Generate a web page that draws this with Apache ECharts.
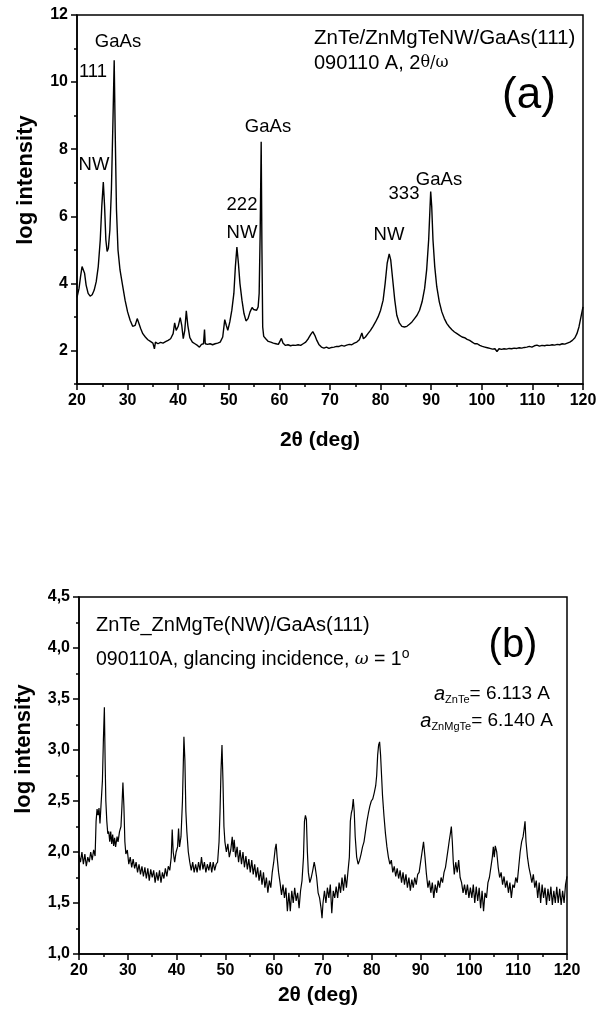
<!DOCTYPE html>
<html><head><meta charset="utf-8">
<script src="https://cdn.jsdelivr.net/npm/echarts@6/dist/echarts.min.js"></script>
<style>html,body{margin:0;padding:0;background:#fff}#c{width:610px;height:1010px}</style>
</head><body><div id="c"></div>
<script>
// ---- data ----
const xTickLabels = [20,30,40,50,60,70,80,90,100,110,120];
const yMajorA = [2,4,6,8,10,12];
const yMinorA = [1,3,5,7,9,11];
const yTicksB = [1.0,1.5,2.0,2.5,3.0,3.5,4.0,4.5];

// (a) 2theta/omega scan: [2theta, log intensity]
const scanA = [[20.0,3.58],[20.4,3.85],[20.7,4.2],[21.0,4.5],[21.2,4.52],[21.5,4.3],[21.8,3.95],[22.2,3.7],[22.6,3.62],[23.0,3.66],[23.4,3.8],[23.8,4.05],[24.2,4.5],[24.6,5.3],[24.9,6.3],[25.2,7.02],[25.45,6.3],[25.7,5.3],[25.95,4.95],[26.2,5.05],[26.5,5.6],[26.8,6.8],[27.1,8.8],[27.35,10.65],[27.55,8.5],[27.8,6.2],[28.1,5.0],[28.5,4.4],[29.0,3.95],[29.5,3.5],[30.0,3.15],[30.5,2.9],[31.0,2.72],[31.5,2.75],[31.9,2.95],[32.2,2.9],[32.6,2.65],[33.0,2.5],[33.5,2.4],[34.0,2.32],[34.5,2.27],[35.0,2.22],[35.3,2.05],[35.5,2.25],[36.0,2.2],[36.5,2.24],[37.0,2.22],[37.5,2.26],[38.0,2.3],[38.5,2.35],[39.0,2.5],[39.3,2.82],[39.6,2.6],[40.0,2.72],[40.4,2.98],[40.7,2.75],[41.0,2.35],[41.3,2.6],[41.6,3.18],[41.9,2.75],[42.3,2.38],[42.8,2.25],[43.3,2.2],[43.8,2.15],[44.2,2.1],[44.6,2.18],[45.0,2.2],[45.2,2.62],[45.35,2.2],[45.8,2.18],[46.3,2.2],[46.8,2.17],[47.3,2.2],[47.8,2.22],[48.3,2.25],[48.8,2.4],[49.2,2.92],[49.5,2.75],[49.8,2.6],[50.2,2.85],[50.6,3.2],[51.0,3.7],[51.3,4.5],[51.6,5.08],[51.9,4.6],[52.2,4.0],[52.6,3.5],[53.0,3.1],[53.4,2.88],[53.8,2.95],[54.2,3.15],[54.6,3.28],[54.9,3.22],[55.2,3.25],[55.5,3.2],[55.8,3.3],[56.0,3.7],[56.2,5.5],[56.4,8.22],[56.55,5.0],[56.7,2.7],[56.9,2.42],[57.3,2.35],[57.8,2.27],[58.3,2.25],[58.8,2.22],[59.3,2.2],[59.8,2.18],[60.1,2.2],[60.4,2.36],[60.7,2.22],[61.2,2.15],[61.7,2.17],[62.2,2.14],[62.7,2.16],[63.2,2.15],[63.7,2.17],[64.2,2.15],[64.7,2.2],[65.2,2.25],[65.7,2.35],[66.2,2.48],[66.6,2.56],[67.0,2.45],[67.4,2.3],[67.8,2.18],[68.3,2.1],[68.8,2.07],[69.3,2.1],[69.8,2.06],[70.3,2.09],[70.8,2.1],[71.3,2.12],[71.8,2.12],[72.3,2.15],[72.8,2.13],[73.3,2.16],[73.8,2.18],[74.3,2.17],[74.8,2.22],[75.3,2.25],[75.8,2.32],[76.3,2.52],[76.6,2.35],[77.0,2.4],[77.5,2.5],[78.0,2.6],[78.5,2.72],[79.0,2.85],[79.5,3.0],[80.0,3.2],[80.5,3.5],[80.9,4.0],[81.3,4.6],[81.7,4.88],[82.0,4.7],[82.4,4.1],[82.8,3.5],[83.2,3.05],[83.7,2.82],[84.2,2.72],[84.7,2.7],[85.2,2.72],[85.7,2.78],[86.2,2.85],[86.7,2.95],[87.2,3.05],[87.7,3.2],[88.2,3.45],[88.7,3.85],[89.1,4.4],[89.5,5.3],[89.75,6.2],[89.9,6.74],[90.1,6.3],[90.35,5.3],[90.7,4.5],[91.1,3.9],[91.6,3.45],[92.1,3.15],[92.6,2.95],[93.1,2.8],[93.6,2.7],[94.1,2.62],[94.6,2.55],[95.1,2.5],[95.6,2.45],[96.1,2.4],[96.6,2.38],[97.1,2.33],[97.6,2.3],[98.1,2.25],[98.6,2.2],[99.1,2.2],[99.6,2.15],[100.1,2.12],[100.6,2.1],[101.1,2.08],[101.6,2.06],[102.1,2.04],[102.6,2.05],[103.0,1.97],[103.4,2.05],[103.9,2.03],[104.4,2.05],[104.9,2.04],[105.4,2.06],[105.9,2.05],[106.4,2.07],[106.9,2.06],[107.4,2.08],[107.9,2.07],[108.4,2.09],[108.9,2.1],[109.4,2.12],[109.9,2.1],[110.4,2.14],[110.9,2.16],[111.4,2.13],[111.9,2.15],[112.4,2.14],[112.9,2.16],[113.4,2.15],[113.9,2.17],[114.4,2.16],[114.9,2.18],[115.4,2.17],[115.9,2.2],[116.4,2.19],[116.9,2.22],[117.4,2.25],[117.9,2.3],[118.4,2.38],[118.8,2.5],[119.2,2.7],[119.6,3.0],[120.0,3.3]];

// (b) glancing incidence scan: [2theta, log intensity]
const scanB = [[20.0,1.97],[20.3,1.9],[20.6,2.0],[20.9,1.88],[21.2,1.98],[21.5,1.86],[21.8,1.95],[22.1,1.9],[22.4,2.0],[22.7,1.92],[23.0,2.02],[23.3,1.96],[23.5,2.3],[23.7,2.42],[23.9,2.36],[24.1,2.43],[24.3,2.28],[24.5,2.45],[24.8,2.7],[25.0,3.1],[25.2,3.42],[25.35,2.9],[25.5,2.5],[25.7,2.3],[25.9,2.18],[26.1,2.2],[26.3,2.1],[26.5,2.2],[26.7,2.08],[26.9,2.17],[27.1,2.06],[27.3,2.14],[27.5,2.05],[27.8,2.15],[28.0,2.1],[28.3,2.2],[28.6,2.25],[28.8,2.45],[29.0,2.68],[29.2,2.45],[29.4,2.1],[29.6,1.98],[29.9,2.02],[30.2,1.88],[30.5,1.95],[30.8,1.85],[31.1,1.93],[31.4,1.84],[31.7,1.9],[32.0,1.8],[32.3,1.88],[32.6,1.78],[32.9,1.86],[33.2,1.76],[33.5,1.85],[33.8,1.74],[34.1,1.84],[34.4,1.72],[34.7,1.83],[35.0,1.75],[35.3,1.82],[35.6,1.7],[35.9,1.8],[36.2,1.72],[36.5,1.82],[36.8,1.7],[37.1,1.8],[37.4,1.74],[37.7,1.84],[38.0,1.76],[38.3,1.86],[38.6,1.82],[38.9,1.95],[39.1,2.22],[39.3,2.0],[39.6,1.9],[39.9,2.0],[40.2,2.05],[40.4,2.23],[40.6,2.05],[40.9,2.15],[41.2,2.5],[41.5,3.13],[41.7,2.9],[41.9,2.4],[42.1,2.2],[42.4,2.0],[42.7,1.9],[43.0,1.82],[43.3,1.9],[43.6,1.8],[43.9,1.88],[44.2,1.8],[44.5,1.9],[44.8,1.82],[45.1,1.95],[45.4,1.83],[45.7,1.9],[46.0,1.8],[46.3,1.88],[46.6,1.82],[46.9,1.9],[47.2,1.8],[47.5,1.9],[47.8,1.82],[48.1,1.88],[48.4,1.9],[48.7,2.1],[48.9,2.4],[49.1,2.8],[49.3,3.05],[49.5,2.7],[49.7,2.25],[49.9,2.1],[50.2,2.0],[50.5,2.08],[50.8,1.95],[51.1,2.02],[51.4,2.15],[51.6,2.0],[51.8,2.12],[52.1,1.95],[52.4,2.05],[52.7,1.9],[53.0,2.02],[53.3,1.88],[53.6,2.0],[53.9,1.85],[54.2,1.96],[54.5,1.83],[54.8,1.93],[55.1,1.8],[55.4,1.92],[55.7,1.78],[56.0,1.88],[56.3,1.75],[56.6,1.85],[56.9,1.72],[57.2,1.82],[57.5,1.68],[57.8,1.8],[58.1,1.65],[58.4,1.75],[58.7,1.6],[59.0,1.72],[59.3,1.65],[59.6,1.8],[59.9,1.9],[60.2,2.03],[60.4,2.08],[60.6,1.95],[60.9,1.8],[61.2,1.7],[61.5,1.58],[61.8,1.68],[62.1,1.55],[62.4,1.65],[62.7,1.42],[63.0,1.6],[63.3,1.42],[63.6,1.62],[63.9,1.5],[64.2,1.65],[64.5,1.52],[64.8,1.6],[65.1,1.45],[65.4,1.62],[65.7,1.72],[66.0,1.95],[66.2,2.3],[66.4,2.36],[66.6,2.32],[66.8,2.0],[67.0,1.8],[67.3,1.7],[67.6,1.75],[67.9,1.82],[68.2,1.9],[68.4,1.85],[68.7,1.75],[69.0,1.6],[69.3,1.55],[69.6,1.45],[69.8,1.35],[70.0,1.5],[70.3,1.62],[70.6,1.5],[70.9,1.65],[71.2,1.55],[71.5,1.68],[71.8,1.4],[72.1,1.62],[72.4,1.55],[72.7,1.66],[73.0,1.55],[73.3,1.7],[73.6,1.6],[73.9,1.75],[74.2,1.62],[74.5,1.78],[74.8,1.65],[75.1,1.8],[75.4,1.95],[75.6,2.3],[75.8,2.38],[76.0,2.42],[76.2,2.52],[76.4,2.4],[76.6,2.15],[76.9,1.95],[77.2,1.88],[77.5,1.92],[77.8,1.98],[78.1,2.05],[78.4,2.1],[78.7,2.2],[79.0,2.3],[79.3,2.38],[79.6,2.45],[79.9,2.5],[80.2,2.52],[80.5,2.58],[80.8,2.65],[81.0,2.75],[81.2,2.95],[81.4,3.05],[81.6,3.08],[81.8,2.95],[82.0,2.75],[82.2,2.55],[82.5,2.35],[82.8,2.18],[83.1,2.05],[83.4,1.95],[83.7,1.88],[84.0,1.92],[84.3,1.8],[84.6,1.86],[84.9,1.76],[85.2,1.84],[85.5,1.74],[85.8,1.82],[86.1,1.7],[86.4,1.8],[86.7,1.68],[87.0,1.78],[87.3,1.65],[87.6,1.75],[87.9,1.62],[88.2,1.73],[88.5,1.65],[88.8,1.75],[89.1,1.68],[89.4,1.78],[89.7,1.8],[90.0,1.9],[90.3,2.0],[90.6,2.1],[90.9,1.95],[91.2,1.78],[91.5,1.65],[91.8,1.72],[92.1,1.6],[92.4,1.7],[92.7,1.55],[93.0,1.68],[93.3,1.6],[93.6,1.72],[93.9,1.65],[94.2,1.75],[94.5,1.7],[94.8,1.8],[95.1,1.85],[95.4,1.95],[95.7,2.05],[95.9,2.12],[96.1,2.18],[96.3,2.25],[96.5,2.1],[96.7,1.9],[96.9,1.78],[97.2,1.9],[97.5,1.8],[97.8,1.92],[98.1,1.75],[98.4,1.7],[98.7,1.6],[99.0,1.68],[99.3,1.58],[99.6,1.68],[99.9,1.55],[100.2,1.65],[100.5,1.55],[100.8,1.68],[101.1,1.5],[101.4,1.66],[101.7,1.52],[102.0,1.65],[102.3,1.45],[102.6,1.62],[102.9,1.42],[103.2,1.6],[103.5,1.55],[103.8,1.7],[104.1,1.75],[104.4,1.85],[104.7,1.95],[104.9,2.05],[105.1,1.95],[105.3,2.06],[105.6,2.0],[105.9,1.85],[106.2,1.75],[106.5,1.8],[106.8,1.68],[107.1,1.76],[107.4,1.65],[107.7,1.72],[108.0,1.6],[108.3,1.7],[108.6,1.55],[108.9,1.68],[109.2,1.65],[109.5,1.75],[109.8,1.7],[110.1,1.85],[110.4,2.0],[110.7,2.1],[111.0,2.15],[111.2,2.22],[111.4,2.3],[111.6,2.1],[111.9,1.95],[112.2,1.85],[112.5,1.78],[112.8,1.7],[113.1,1.78],[113.4,1.65],[113.7,1.72],[114.0,1.55],[114.3,1.7],[114.6,1.5],[114.9,1.68],[115.2,1.55],[115.5,1.65],[115.8,1.48],[116.1,1.64],[116.4,1.52],[116.7,1.66],[117.0,1.48],[117.3,1.62],[117.6,1.5],[117.9,1.66],[118.2,1.5],[118.5,1.64],[118.8,1.48],[119.1,1.62],[119.4,1.5],[119.7,1.68],[120.0,1.76]];

// ---- chart ----
const FF = '"Liberation Sans", Arial, sans-serif';
const chart = echarts.init(document.getElementById('c'), null, {renderer: 'canvas'});
const line = {color: '#000', width: 1.5};
function xAx(grid) {
  return {
    gridIndex: grid, type: 'value', min: 20, max: 120, interval: 10,
    axisLine: {onZero: false, lineStyle: line},
    axisTick: {show: true, length: 6, lineStyle: line},
    minorTick: {show: true, splitNumber: 2, length: 3, lineStyle: line},
    axisLabel: {color: '#000', fontFamily: FF, fontWeight: 'bold', fontSize: 16, margin: 9,
      customValues: xTickLabels},
    splitLine: {show: false}, minorSplitLine: {show: false}
  };
}
const option = {
  animation: false,
  backgroundColor: '#fff',
  grid: [
    {left: 77, top: 15, width: 506, height: 369, show: true, borderColor: '#000', borderWidth: 1.5},
    {left: 79, top: 597, width: 488, height: 357, show: true, borderColor: '#000', borderWidth: 1.5}
  ],
  xAxis: [xAx(0), xAx(1)],
  yAxis: [
    {gridIndex: 0, type: 'value', min: 1, max: 12, position: 'left',
      axisLine: {onZero: false, lineStyle: line},
      axisTick: {show: true, length: 6, lineStyle: line, customValues: yMajorA},
      axisLabel: {color: '#000', fontFamily: FF, fontWeight: 'bold', fontSize: 16, margin: 9, customValues: yMajorA},
      splitLine: {show: false}},
    {gridIndex: 0, type: 'value', min: 1, max: 12, position: 'left', offset: 0,
      axisLine: {show: false},
      axisTick: {show: true, length: 3, lineStyle: line, customValues: yMinorA},
      axisLabel: {show: false},
      splitLine: {show: false}},
    {gridIndex: 1, type: 'value', min: 1, max: 4.5, interval: 0.5, position: 'left',
      axisLine: {onZero: false, lineStyle: line},
      axisTick: {show: true, length: 6, lineStyle: line},
      minorTick: {show: true, splitNumber: 2, length: 3, lineStyle: line},
      axisLabel: {color: '#000', fontFamily: FF, fontWeight: 'bold', fontSize: 16, margin: 9,
        customValues: yTicksB, formatter: v => v.toFixed(1).replace('.', ',')},
      splitLine: {show: false}, minorSplitLine: {show: false}}
  ],
  series: [
    {type: 'line', xAxisIndex: 0, yAxisIndex: 0, data: scanA, showSymbol: false, symbol: 'none',
      lineStyle: {color: '#000', width: 1.4}, silent: true},
    {type: 'line', xAxisIndex: 1, yAxisIndex: 2, data: scanB, showSymbol: false, symbol: 'none',
      lineStyle: {color: '#000', width: 1.2}, silent: true}
  ],
  graphic: []
};
function txt(x, y, text, size, opts) {
  return Object.assign({type: 'text', x: x, y: y, silent: true,
    style: Object.assign({text: text, fill: '#000', font: (opts && opts.weight || 'normal') + ' ' + size + 'px ' + FF,
      align: 'center', verticalAlign: 'middle'}, opts && opts.style)}, opts && opts.el);
}
const G = option.graphic;
// axis titles
G.push(txt(26, 180, 'log intensity', 22, {weight: 'bold', el: {rotation: Math.PI / 2}}));
G.push(txt(320, 440, '2θ (deg)', 21, {weight: 'bold'}));
G.push(txt(24, 749, 'log intensity', 22, {weight: 'bold', el: {rotation: Math.PI / 2}}));
G.push(txt(318, 995, '2θ (deg)', 21, {weight: 'bold'}));
// panel (a) annotations
G.push(txt(118, 42, 'GaAs', 18.5));
G.push(txt(93, 72, '111', 18.5));
G.push(txt(94, 165, 'NW', 18.5));
G.push(txt(268, 127, 'GaAs', 18.5));
G.push(txt(242, 205, '222', 18.5));
G.push(txt(242, 233, 'NW', 18.5));
G.push(txt(439, 180, 'GaAs', 18.5));
G.push(txt(404, 194, '333', 18.5));
G.push(txt(389, 235, 'NW', 18.5));
G.push(txt(314, 38, 'ZnTe/ZnMgTeNW/GaAs(111)', 20.5, {style: {align: 'left'}}));
G.push({type: 'text', x: 314, y: 63, silent: true, style: {
  text: '090110 A, 2{s|θ/ω}', align: 'left', verticalAlign: 'middle',
  font: 'normal 20px ' + FF, fill: '#000',
  rich: {s: {font: 'normal 16px "DejaVu Serif", serif', fill: '#000'}}}});
G.push(txt(529, 96, '(a)', 44));
// panel (b) annotations
G.push(txt(96, 625, 'ZnTe_ZnMgTe(NW)/GaAs(111)', 20, {style: {align: 'left'}}));
G.push({type: 'text', x: 96, y: 660, silent: true, style: {
  text: '090110A, glancing incidence, {w|ω} = 1{o|o}', align: 'left', verticalAlign: 'middle',
  font: 'normal 19.5px ' + FF, fill: '#000',
  rich: {w: {font: 'italic 17px "DejaVu Serif", serif', fill: '#000'},
         o: {font: 'normal 14px ' + FF, fill: '#000', verticalAlign: 'top', padding: [0, 0, 12, 0]}}}});
G.push(txt(513, 646, '(b)', 40));
G.push({type: 'text', x: 550, y: 694, silent: true, style: {
  text: '{a|a}{sub|ZnTe}= 6.113 A', align: 'right', verticalAlign: 'middle',
  font: 'normal 19px ' + FF, fill: '#000',
  rich: {a: {font: 'italic 20px ' + FF, fill: '#000'},
         sub: {font: 'normal 11px ' + FF, fill: '#000', padding: [12, 0, 0, 0]}}}});
G.push({type: 'text', x: 553, y: 721, silent: true, style: {
  text: '{a|a}{sub|ZnMgTe}= 6.140 A', align: 'right', verticalAlign: 'middle',
  font: 'normal 19px ' + FF, fill: '#000',
  rich: {a: {font: 'italic 20px ' + FF, fill: '#000'},
         sub: {font: 'normal 11px ' + FF, fill: '#000', padding: [12, 0, 0, 0]}}}});
chart.setOption(option);
</script></body></html>
